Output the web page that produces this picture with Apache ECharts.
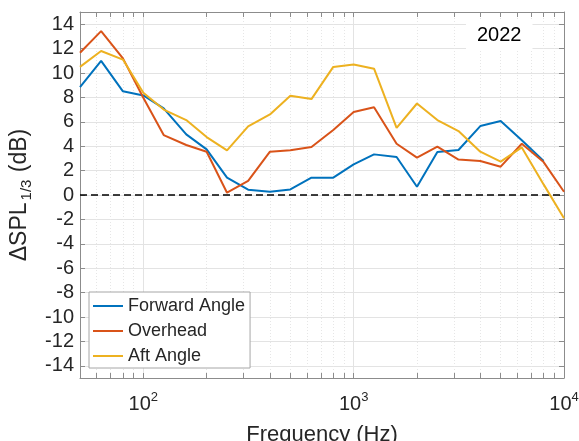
<!DOCTYPE html>
<html>
<head>
<meta charset="utf-8">
<script src="https://cdn.jsdelivr.net/npm/echarts@6/dist/echarts.min.js"></script>
<style>
  html, body { margin: 0; padding: 0; background: #fff; }
  #chart { width: 579px; height: 441px; }
</style>
</head>
<body>
<div id="chart"></div>
<script>
// One-third octave band centre frequencies (Hz)
const freqs = [50, 63, 80, 100, 125, 160, 200, 250, 315, 400, 500, 630, 800,
  1000, 1250, 1600, 2000, 2500, 3150, 4000, 5000, 6300, 8000, 10000];

// Level differences per band (dB)
const forwardAngle = [8.85, 11.0, 8.5, 8.16, 7.1, 4.97, 3.74, 1.42, 0.44, 0.27, 0.46, 1.42, 1.42,
  2.51, 3.33, 3.11, 0.68, 3.52, 3.69, 5.65, 6.06, 4.48, 2.78, null];
const overhead = [11.66, 13.43, 11.2, 7.97, 4.91, 4.1, 3.55, 0.19, 1.15, 3.55, 3.66, 3.93, 5.33,
  6.8, 7.2, 4.2, 3.06, 3.96, 2.9, 2.78, 2.32, 4.2, 2.7, 0.27];
const aftAngle = [10.5, 11.8, 11.1, 8.38, 7.0, 6.14, 4.75, 3.66, 5.62, 6.6, 8.13, 7.86, 10.5,
  10.7, 10.35, 5.51, 7.5, 6.14, 5.24, 3.55, 2.73, 3.9, 0.87, -1.9];

const seriesNames = ['Forward Angle', 'Overhead', 'Aft Angle'];
const seriesColors = ['#0072BD', '#D95319', '#EDB120'];

// Axis ticks
const yTicks = [-14, -12, -10, -8, -6, -4, -2, 0, 2, 4, 6, 8, 10, 12, 14];
const decadeTicks = [100, 1000, 10000];
const minorTicks = [60, 70, 80, 90, 200, 300, 400, 500, 600, 700, 800, 900,
  2000, 3000, 4000, 5000, 6000, 7000, 8000, 9000];

const FONT = '"Liberation Sans", Arial, Helvetica, sans-serif';
const TEXT = '#262626';
const AXIS = '#8c8c8c';

function pairs(values) {
  return freqs.map((f, i) => [f, values[i]]);
}

function decadeLabel(v) {
  const p = Math.round(Math.log10(v));
  return '{b|10}{sup|' + p + '}';
}

function freqAxis(position, ticks, opts) {
  return Object.assign({
    type: 'log',
    logBase: 10,
    min: 50,
    max: 10000,
    position: position,
    axisLine: { show: false, onZero: false },
    axisTick: { show: true, inside: true, length: 5, customValues: ticks,
      lineStyle: { color: AXIS, width: 1 } },
    axisLabel: { show: false },
    splitLine: { show: false }
  }, opts || {});
}

const chart = echarts.init(document.getElementById('chart'), null, { renderer: 'canvas' });

const option = {
  animation: false,
  backgroundColor: '#fff',
  textStyle: { fontFamily: FONT },
  title: {
    text: '2022',
    left: 466,
    top: 21,
    padding: [4, 11],
    backgroundColor: '#fff',
    textStyle: { fontSize: 20, fontWeight: 'normal', color: '#000', fontFamily: FONT, lineHeight: 20 }
  },
  legend: {
    data: seriesNames,
    orient: 'vertical',
    left: 89,
    top: 292,
    padding: [5, 5, 3, 4],
    icon: 'rect',
    itemWidth: 30,
    itemHeight: 2,
    itemGap: 7,
    borderColor: '#a6a6a6',
    borderWidth: 1,
    borderRadius: 0,
    backgroundColor: '#fff',
    textStyle: { fontSize: 18, lineHeight: 18, color: TEXT, fontFamily: FONT }
  },
  grid: { left: 80, right: 15, top: 12, bottom: 63, containLabel: false, outerBoundsMode: 'none' },
  xAxis: [
    freqAxis('bottom', decadeTicks, {
      axisLine: { show: true, onZero: false, lineStyle: { color: AXIS, width: 1 } },
      axisLabel: {
        show: true,
        customValues: decadeTicks,
        margin: 13,
        color: TEXT,
        fontSize: 20,
        fontFamily: FONT,
        formatter: decadeLabel,
        rich: {
          b: { fontSize: 20, lineHeight: 26, color: TEXT, fontFamily: FONT },
          sup: { fontSize: 13, lineHeight: 13, verticalAlign: 'top', color: TEXT, fontFamily: FONT }
        }
      },
      splitLine: { show: true, lineStyle: { color: '#e3e3e3', width: 1 } },
      name: 'Frequency (Hz)',
      nameLocation: 'middle',
      nameGap: 46,
      nameTextStyle: { fontSize: 22, color: TEXT, fontFamily: FONT }
    }),
    freqAxis('bottom', minorTicks, {
      splitLine: { show: true, lineStyle: { color: '#e6e6e6', width: 1, type: [1, 2] } }
    }),
    freqAxis('top', decadeTicks, {
      axisLine: { show: true, onZero: false, lineStyle: { color: AXIS, width: 1 } }
    }),
    freqAxis('top', minorTicks)
  ],
  yAxis: [
    {
      type: 'value',
      min: -15,
      max: 15,
      position: 'left',
      axisLine: { show: true, onZero: false, lineStyle: { color: AXIS, width: 1 } },
      axisTick: { show: true, inside: true, length: 5, customValues: yTicks,
        lineStyle: { color: AXIS, width: 1 } },
      axisLabel: { show: true, customValues: yTicks, margin: 6, color: TEXT, fontSize: 20, fontFamily: FONT },
      splitLine: { show: true, lineStyle: { color: '#e3e3e3', width: 1 } },
      name: '{a|ΔSPL}{b|1/3}{a| (dB)}',
      nameLocation: 'middle',
      nameRotate: 90,
      nameGap: 34,
      nameTextStyle: {
        color: TEXT,
        fontFamily: FONT,
        rich: {
          a: { fontSize: 23, lineHeight: 30, color: TEXT, fontFamily: FONT },
          b: { fontSize: 15, lineHeight: 16, verticalAlign: 'bottom', padding: [0, 1, 0, 2],
            color: TEXT, fontFamily: FONT }
        }
      }
    },
    {
      type: 'value',
      min: -15,
      max: 15,
      position: 'right',
      axisLine: { show: true, onZero: false, lineStyle: { color: AXIS, width: 1 } },
      axisTick: { show: true, inside: true, length: 5, customValues: yTicks,
        lineStyle: { color: AXIS, width: 1 } },
      axisLabel: { show: false },
      splitLine: { show: false }
    }
  ],
  series: [forwardAngle, overhead, aftAngle].map((vals, i) => ({
    name: seriesNames[i],
    type: 'line',
    xAxisIndex: 0,
    yAxisIndex: 0,
    data: pairs(vals),
    symbol: 'none',
    showSymbol: false,
    connectNulls: false,
    color: seriesColors[i],
    lineStyle: { color: seriesColors[i], width: 2 },
    z: 3 + i,
    markLine: i === 0 ? {
      silent: true,
      symbol: 'none',
      label: { show: false },
      lineStyle: { color: '#000', width: 1.5, type: [7, 4] },
      data: [{ yAxis: 0 }]
    } : undefined
  }))
};

chart.setOption(option);
</script>
</body>
</html>
